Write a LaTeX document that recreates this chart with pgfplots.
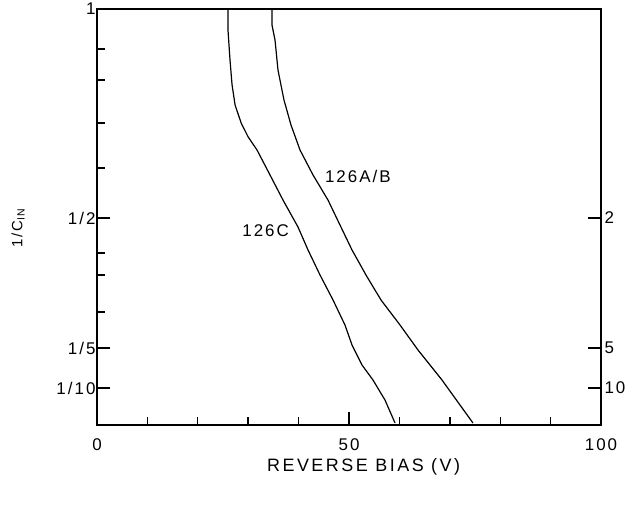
\documentclass[border=0pt]{standalone}
\usepackage{fontspec}
\setmainfont{Liberation Sans}[LetterSpace=12]
\usepackage{pgfplots}
\pgfplotsset{compat=1.18}
\begin{document}
\begin{tikzpicture}
\pgfplotsset{
 base/.style={scale only axis, width=504bp, height=416bp,
   xmin=0, xmax=100, ymin=0, ymax=416,
   tick align=inside, major tick length=13bp, minor tick length=8bp,
   axis line style={line width=1.6bp},
   every tick/.style={line width=1.4bp, black},
   tick label style={font=\fontsize{17}{19}\selectfont},
   /pgf/number format/assume math mode=true}
}
\begin{axis}[base, clip=false,
  xtick={0,50,100}, minor xtick={10,20,30,40,60,70,80,90},
  ytick={37,77,207,416}, yticklabels={1/10,1/5,1/2,1},
  minor ytick={113,150,172,257,302,345,376},
  xtick pos=bottom, ytick pos=left,
  xticklabel style={yshift=-10bp},
  yticklabel style={xshift=2bp},
]
\addplot[black, line width=1.2bp] coordinates {
(25.99,416) (25.99,395) (26.39,365) (26.8,340) (27.4,320) (28.6,302) (30.0,288) (31.75,275)
(34.33,250) (36.9,225) (39.88,198) (41.87,175) (44.25,150) (46.83,125)
(49.2,100) (50.6,80) (52.58,60) (54.76,45) (57.14,25) (59.13,2)
};
\addplot[black, line width=1.2bp] coordinates {
(34.72,416) (34.72,400) (35.32,385) (35.91,355) (37.1,325) (38.49,300)
(40.28,275) (42.86,250) (45.83,225) (48.21,200) (50.6,175) (53.37,150)
(56.35,125) (60.12,100) (63.69,75) (68.45,45) (72.02,20) (74.6,2)
};
\node[anchor=west, font=\fontsize{17}{19}\selectfont, inner sep=0pt] at (axis cs:45.2,249) {126A/B};
\node[anchor=west, font=\fontsize{17}{19}\selectfont, inner sep=0pt] at (axis cs:28.8,194) {126C};
\path (rel axis cs:0.529,0) ++(0,-42bp) node[font=\fontsize{18}{20}\selectfont\addfontfeature{LetterSpace=14}] {REVERSE BIAS (V)};
\path (rel axis cs:0,0.474) ++(-79bp,0) node[rotate=90, font=\fontsize{15}{17}\selectfont] {1/C\textsubscript{IN}};
\coordinate (O) at (rel axis cs:0,0);
\end{axis}
\begin{axis}[base, axis x line=none, axis y line*=right,
  ytick={37,77,207}, yticklabels={10,5,2}, minor ytick={}]
\end{axis}
\pgfresetboundingbox
\path ([xshift=-97bp,yshift=-82bp]O) rectangle ([xshift=541bp,yshift=425bp]O);
\end{tikzpicture}
\end{document}
